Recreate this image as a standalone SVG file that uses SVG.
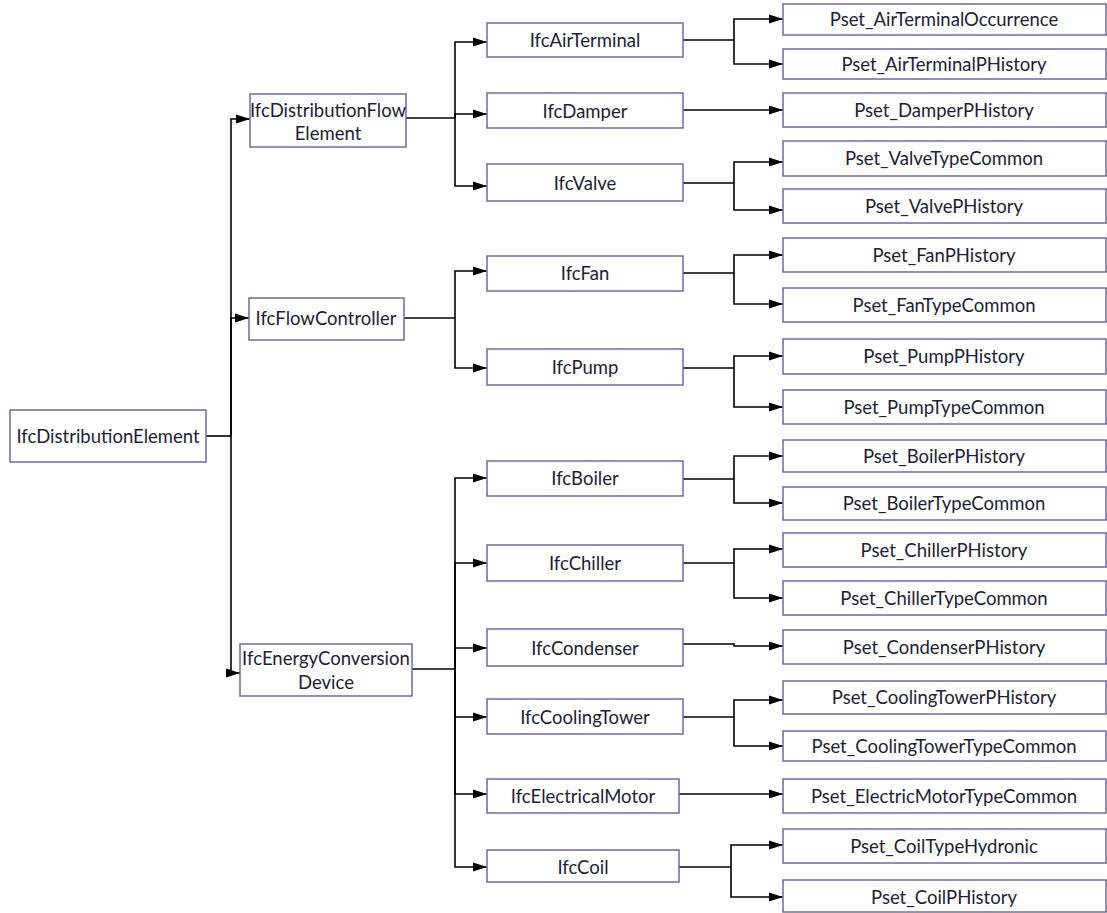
<svg xmlns="http://www.w3.org/2000/svg" width="1107" height="913" viewBox="0 0 1107 913">
<style>
.b{fill:#fff;stroke:#6f6a9c;stroke-width:1.5}
.t{font-family:Lato,"Liberation Sans",sans-serif;font-size:18.5px;fill:#1e1e34;text-anchor:middle;dominant-baseline:central}
.c{fill:none;stroke:#000;stroke-width:1.6}
.a{marker-end:url(#ah)}
</style>
<defs>
<marker id="ah" markerUnits="userSpaceOnUse" markerWidth="14" markerHeight="10" refX="14" refY="5" orient="auto">
<path d="M0,0.5 L14,5 L0,9.5 z" fill="#000"/>
</marker>
</defs>
<rect width="1107" height="913" fill="#fff"/>
<g id="connectors">
<path class="c" d="M206 436 H231"/>
<path class="c a" d="M231 436 V119 H250"/>
<path class="c a" d="M231 436 V318 H249"/>
<path class="c a" d="M231 436 V673 H240"/>
<path class="c" d="M406 118 H455"/>
<path class="c a" d="M455 118 V42 H487"/>
<path class="c a" d="M455 118 V114 H487"/>
<path class="c a" d="M455 118 V186 H487"/>
<path class="c" d="M404 318 H455"/>
<path class="c a" d="M455 318 V271 H487"/>
<path class="c a" d="M455 318 V368 H487"/>
<path class="c" d="M412 669 H455"/>
<path class="c a" d="M455 669 V478 H487"/>
<path class="c a" d="M455 669 V563 H487"/>
<path class="c a" d="M455 669 V648 H487"/>
<path class="c a" d="M455 669 V717 H487"/>
<path class="c a" d="M455 669 V794 H487"/>
<path class="c a" d="M455 669 V867 H487"/>
<path class="c" d="M683 40 H734"/>
<path class="c a" d="M734 40 V19 H783"/>
<path class="c a" d="M734 40 V64 H783"/>
<path class="c a" d="M683 110 H783"/>
<path class="c" d="M683 183 H734"/>
<path class="c a" d="M734 183 V162 H783"/>
<path class="c a" d="M734 183 V210 H783"/>
<path class="c" d="M683 273 H734"/>
<path class="c a" d="M734 273 V255 H783"/>
<path class="c a" d="M734 273 V304 H783"/>
<path class="c" d="M683 368 H734"/>
<path class="c a" d="M734 368 V356 H783"/>
<path class="c a" d="M734 368 V407 H783"/>
<path class="c" d="M683 479 H734"/>
<path class="c a" d="M734 479 V456 H783"/>
<path class="c a" d="M734 479 V503 H783"/>
<path class="c" d="M683 563 H734"/>
<path class="c a" d="M734 563 V549 H783"/>
<path class="c a" d="M734 563 V598 H783"/>
<path class="c a" d="M683 644 H734 V646 H783"/>
<path class="c" d="M683 717 H734"/>
<path class="c a" d="M734 717 V700 H783"/>
<path class="c a" d="M734 717 V746 H783"/>
<path class="c a" d="M679 794 H783"/>
<path class="c" d="M679 867 H731"/>
<path class="c a" d="M731 867 V845 H783"/>
<path class="c a" d="M731 867 V897 H783"/>
</g>
<g id="n-root"><rect class="b" x="10" y="410" width="196" height="52"/><text class="t" x="108" y="436">IfcDistributionElement</text></g>
<g id="n-dfe"><rect class="b" x="250" y="94" width="156" height="53"/><text class="t" x="328" y="110">IfcDistributionFlow</text><text class="t" x="328" y="133">Element</text></g>
<g id="n-fc"><rect class="b" x="249" y="298" width="155" height="42"/><text class="t" x="326" y="318">IfcFlowController</text></g>
<g id="n-ecd"><rect class="b" x="240" y="644" width="172" height="52"/><text class="t" x="326" y="658">IfcEnergyConversion</text><text class="t" x="326" y="682">Device</text></g>
<g id="n-airterminal"><rect class="b" x="487" y="23" width="196" height="34"/><text class="t" x="585" y="40">IfcAirTerminal</text></g>
<g id="n-damper"><rect class="b" x="487" y="93" width="196" height="35"/><text class="t" x="585" y="111">IfcDamper</text></g>
<g id="n-valve"><rect class="b" x="487" y="164" width="196" height="37"/><text class="t" x="585" y="183">IfcValve</text></g>
<g id="n-fan"><rect class="b" x="487" y="256" width="196" height="35"/><text class="t" x="585" y="273">IfcFan</text></g>
<g id="n-pump"><rect class="b" x="487" y="349" width="196" height="36"/><text class="t" x="585" y="367">IfcPump</text></g>
<g id="n-boiler"><rect class="b" x="487" y="461" width="196" height="35"/><text class="t" x="585" y="478">IfcBoiler</text></g>
<g id="n-chiller"><rect class="b" x="487" y="545" width="196" height="36"/><text class="t" x="585" y="563">IfcChiller</text></g>
<g id="n-condenser"><rect class="b" x="487" y="629" width="196" height="37"/><text class="t" x="585" y="648">IfcCondenser</text></g>
<g id="n-coolingtower"><rect class="b" x="487" y="699" width="196" height="35"/><text class="t" x="585" y="717">IfcCoolingTower</text></g>
<g id="n-motor"><rect class="b" x="487" y="779" width="192" height="34"/><text class="t" x="583" y="796">IfcElectricalMotor</text></g>
<g id="n-coil"><rect class="b" x="487" y="850" width="192" height="32"/><text class="t" x="583" y="867">IfcCoil</text></g>
<g id="p-atocc"><rect class="b" x="783" y="4" width="323" height="31"/><text class="t" x="944" y="19">Pset_AirTerminalOccurrence</text></g>
<g id="p-atph"><rect class="b" x="783" y="49" width="323" height="30"/><text class="t" x="944" y="64">Pset_AirTerminalPHistory</text></g>
<g id="p-damper"><rect class="b" x="783" y="93" width="323" height="34"/><text class="t" x="944" y="110">Pset_DamperPHistory</text></g>
<g id="p-valvetc"><rect class="b" x="783" y="141" width="323" height="35"/><text class="t" x="944" y="158">Pset_ValveTypeCommon</text></g>
<g id="p-valveph"><rect class="b" x="783" y="189" width="323" height="34"/><text class="t" x="944" y="206">Pset_ValvePHistory</text></g>
<g id="p-fanph"><rect class="b" x="783" y="238" width="323" height="34"/><text class="t" x="944" y="255">Pset_FanPHistory</text></g>
<g id="p-fantc"><rect class="b" x="783" y="288" width="323" height="34"/><text class="t" x="944" y="305">Pset_FanTypeCommon</text></g>
<g id="p-pumpph"><rect class="b" x="783" y="339" width="323" height="35"/><text class="t" x="944" y="356">Pset_PumpPHistory</text></g>
<g id="p-pumptc"><rect class="b" x="783" y="390" width="323" height="34"/><text class="t" x="944" y="407">Pset_PumpTypeCommon</text></g>
<g id="p-boilerph"><rect class="b" x="783" y="440" width="323" height="32"/><text class="t" x="944" y="456">Pset_BoilerPHistory</text></g>
<g id="p-boilertc"><rect class="b" x="783" y="487" width="323" height="33"/><text class="t" x="944" y="503">Pset_BoilerTypeCommon</text></g>
<g id="p-chillerph"><rect class="b" x="783" y="533" width="323" height="34"/><text class="t" x="944" y="550">Pset_ChillerPHistory</text></g>
<g id="p-chillertc"><rect class="b" x="783" y="581" width="323" height="34"/><text class="t" x="944" y="598">Pset_ChillerTypeCommon</text></g>
<g id="p-condph"><rect class="b" x="783" y="630" width="323" height="34"/><text class="t" x="944" y="647">Pset_CondenserPHistory</text></g>
<g id="p-ctph"><rect class="b" x="783" y="681" width="323" height="33"/><text class="t" x="944" y="697">Pset_CoolingTowerPHistory</text></g>
<g id="p-cttc"><rect class="b" x="783" y="731" width="323" height="30"/><text class="t" x="944" y="746">Pset_CoolingTowerTypeCommon</text></g>
<g id="p-emtc"><rect class="b" x="783" y="779" width="323" height="34"/><text class="t" x="944" y="796">Pset_ElectricMotorTypeCommon</text></g>
<g id="p-coiltc"><rect class="b" x="783" y="829" width="323" height="34"/><text class="t" x="944" y="846">Pset_CoilTypeHydronic</text></g>
<g id="p-coilph"><rect class="b" x="783" y="880" width="323" height="32"/><text class="t" x="944" y="897">Pset_CoilPHistory</text></g>
</svg>
